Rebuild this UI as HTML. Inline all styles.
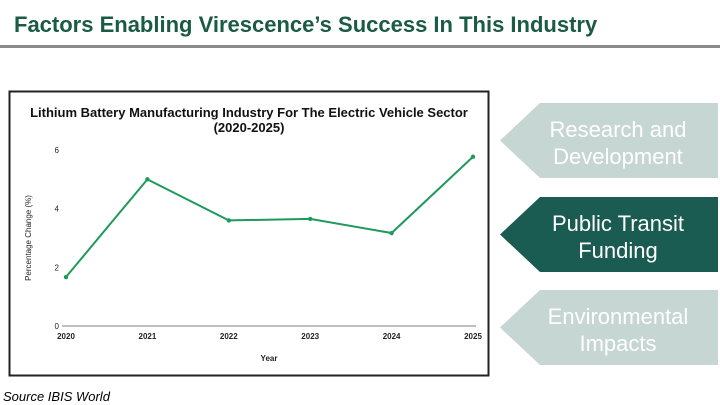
<!DOCTYPE html>
<html><head><meta charset="utf-8"><style>
body{margin:0;width:720px;height:405px;background:#fff;position:relative;overflow:hidden;font-family:"Liberation Sans",sans-serif}
#title{position:absolute;left:14px;top:12px;font-size:22px;font-weight:bold;color:#1b5a45;white-space:nowrap}
#rule{position:absolute;left:0;top:45px;width:720px;height:3px;background:#8a8a8a}
#src{position:absolute;left:3px;top:389px;font-size:13px;font-style:italic;color:#000}
</style></head><body>
<div id="title">Factors Enabling Virescence’s Success In This Industry</div>
<div id="rule"></div>
<svg width="720" height="405" style="position:absolute;left:0;top:0">
<rect x="9.5" y="91.5" width="479" height="284" fill="#fff" stroke="#222" stroke-width="2"/>
<text x="249" y="117" text-anchor="middle" font-size="13" font-weight="bold" fill="#111">Lithium Battery Manufacturing Industry For The Electric Vehicle Sector</text>
<text x="249" y="132" text-anchor="middle" font-size="13" font-weight="bold" fill="#111">(2020-2025)</text>
<g id="chart"></g>
<g><polygon points="500,140.5 540,103 718,103 718,178 540,178" fill="#c6d6d3"/>
<text x="618" y="137" text-anchor="middle" font-size="22" fill="#fff">Research and</text><text x="618" y="164" text-anchor="middle" font-size="22" fill="#fff">Development</text></g>
<g><polygon points="500,234.5 540,197 718,197 718,272 540,272" fill="#1a5b52"/>
<text x="618" y="231" text-anchor="middle" font-size="22" fill="#fff">Public Transit</text><text x="618" y="258" text-anchor="middle" font-size="22" fill="#fff">Funding</text></g>
<g><polygon points="500,327.5 540,290 718,290 718,365 540,365" fill="#c6d6d3"/>
<text x="618" y="324" text-anchor="middle" font-size="22" fill="#fff">Environmental</text><text x="618" y="351" text-anchor="middle" font-size="22" fill="#fff">Impacts</text></g>
</svg>
<div id="src">Source IBIS World</div>
<script>
const years=["2020","2021","2022","2023","2024","2025"];
const values=[1.67,5.0,3.6,3.65,3.17,5.77];
const yTicks=[0,2,4,6];
const NS="http://www.w3.org/2000/svg";
const g=document.getElementById("chart");
const x0=66,x1=473,yb=326,yt=150,ymax=6;
function xs(i){return x0+(x1-x0)*i/(years.length-1);}
function ys(v){return yb-(yb-yt)*v/ymax;}
function mk(t,a,txt){const e=document.createElementNS(NS,t);for(const k in a)e.setAttribute(k,a[k]);if(txt!==undefined)e.textContent=txt;g.appendChild(e);return e;}
const ax=mk("line",{x1:62,x2:476,y1:yb,y2:yb,stroke:"#aaa","stroke-width":1.5});


yTicks.forEach(t=>{const e=mk("text",{x:59,y:ys(t)+3,"text-anchor":"end","font-size":8,fill:"#222"},t);

});
years.forEach((y,i)=>{const e=mk("text",{x:xs(i),y:yb+13,"text-anchor":"middle","font-size":8,"font-weight":"bold",fill:"#222"},y);

});
const xt=mk("text",{x:269,y:361,"text-anchor":"middle","font-size":8,"font-weight":"bold",fill:"#222"},"Year");


const yt2=mk("text",{x:31,y:238,"text-anchor":"middle","font-size":8,fill:"#222",transform:"rotate(-90 31 238)"},"Percentage Change (%)");


const ln=mk("polyline",{points:values.map((v,i)=>xs(i)+","+ys(v)).join(" "),fill:"none",stroke:"#1f9a5c","stroke-width":2});


values.forEach((v,i)=>{const c=mk("circle",{cx:xs(i),cy:ys(v),r:2.2,fill:"#1f9a5c"});

});
</script>
</body></html>
